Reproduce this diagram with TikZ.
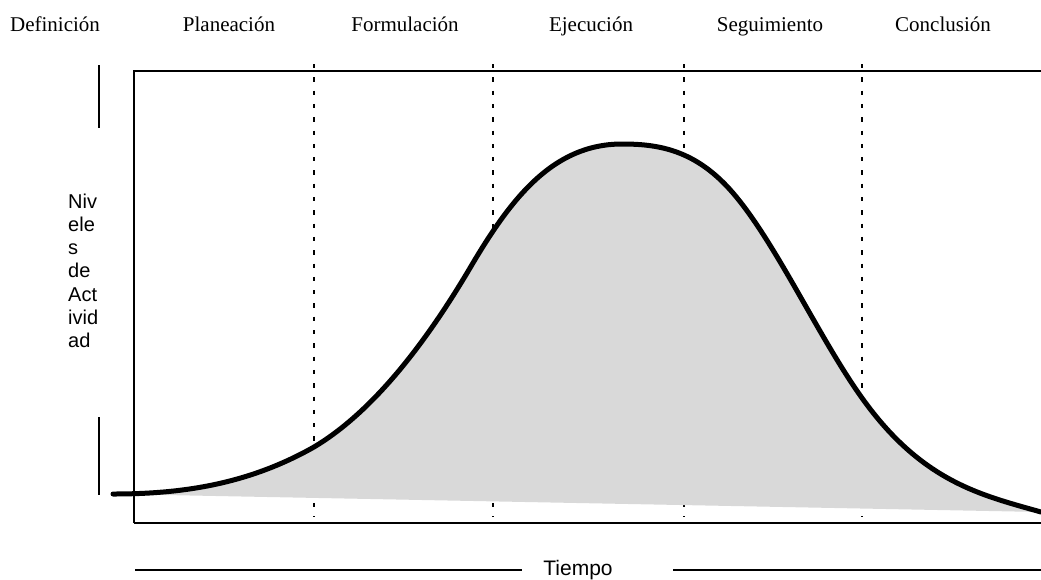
\documentclass[tikz,border=0pt]{standalone}
\usepackage{fontspec}
\setmainfont{Liberation Serif}
\newfontfamily\arialfont{Liberation Sans}
\definecolor{fillgray}{HTML}{D9D9D9}
\begin{document}
\begin{tikzpicture}[x=1pt,y=-1pt,
  phase/.style={anchor=base, inner sep=0pt, font=\fontsize{21}{24}\selectfont},
  sanslabel/.style={inner sep=0pt, font=\arialfont\fontsize{20}{23.3}\selectfont},
  frame/.style={line width=2.5pt},
  divider/.style={line width=2.7pt, dash pattern=on 4.3pt off 9pt},
  tick/.style={line width=2pt},
  activity/.style={line width=5pt, line cap=round, fill=fillgray}
  ]
\useasboundingbox (0,0) rectangle (1041,579);
\clip (0,0) rectangle (1041,579);
% phase labels
\node[phase] (def) at (55,31) {Definición};
\node[phase] (pla) at (229,31) {Planeación};
\node[phase] (for) at (405,31) {Formulación};
\node[phase] (eje) at (591,31) {Ejecución};
\node[phase] (seg) at (770,31) {Seguimiento};
\node[phase] (con) at (943,31) {Conclusión};
% frame
\draw[frame] (134,523) -- (134,71) -- (1060,71);
\draw[frame] (134,523) -- (1060,523);
% dividers
\foreach \xx in {314,493,684,862} \draw[divider] (\xx,64) -- (\xx,517);
% left ticks
\draw[tick] (99,65) -- (99,128);
\draw[tick] (99,417) -- (99,495);
% y label
\node[sanslabel, anchor=base west] (yl1) at (68,208) {Niv};
\node[sanslabel, anchor=base west] (yl2) at (68,231.3) {ele};
\node[sanslabel, anchor=base west] (yl3) at (68,254.6) {s};
\node[sanslabel, anchor=base west] (yl4) at (68,277.9) {de};
\node[sanslabel, anchor=base west] (yl5) at (68,301.2) {Act};
\node[sanslabel, anchor=base west] (yl6) at (68,324.5) {ivid};
\node[sanslabel, anchor=base west] (yl7) at (68,347.8) {ad};
% curve
\draw[activity] (113,494)
  .. controls (180,494) and (247,485) .. (314,447)
  .. controls (366,416) and (418,356) .. (470,268)
  .. controls (510,200) and (552,144) .. (622,144)
  .. controls (659,144) and (696,150) .. (733,193)
  .. controls (776,243) and (819,338) .. (862,398)
  .. controls (922,482) and (981,495) .. (1041,512);
% time axis
\node[sanslabel, anchor=base, font=\arialfont\fontsize{21}{24}\selectfont] (tiempo) at (578,575) {Tiempo};
\coordinate (tl) at (135,570);
\coordinate (tlend) at (522,570);
\coordinate (trstart) at (673,570);
\coordinate (tr) at (1041,570);
\draw[tick] (tl) -- (tlend);
\draw[tick] (trstart) -- (tr);
\end{tikzpicture}
\end{document}
